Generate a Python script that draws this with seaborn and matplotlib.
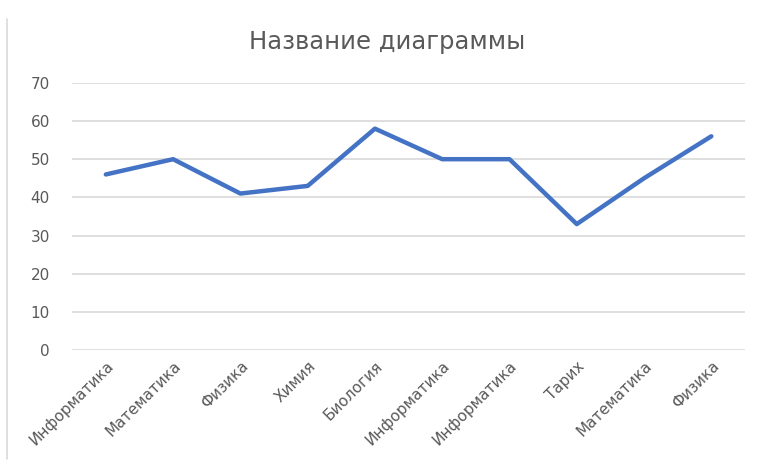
import matplotlib
matplotlib.use("Agg")
import matplotlib.pyplot as plt
import seaborn as sns
import pandas as pd
from matplotlib.lines import Line2D

categories = ["Информатика", "Математика", "Физика", "Химия", "Биология",
              "Информатика", "Информатика", "Тарих", "Математика", "Физика"]
values = [46, 50, 41, 43, 58, 50, 50, 33, 45, 56]
yticks = [0, 10, 20, 30, 40, 50, 60, 70]
title = "Название диаграммы"

sns.set_theme(style="white")
plt.rcParams['font.family'] = ['DejaVu Sans']

df = pd.DataFrame({"pos": range(len(categories)), "val": values})

fig = plt.figure(figsize=(7.68, 4.68), dpi=100)
ax = fig.add_axes([0.094, 0.252, 0.876, 0.571])

sns.lineplot(data=df, x="pos", y="val", ax=ax, color="#4472C4", linewidth=3.2)

ax.set_xlim(-0.5, len(categories) - 0.5)
ax.set_ylim(0, 70)
ax.set_yticks(yticks)
ax.set_xticks(range(len(categories)))
ax.set_xticklabels(categories, rotation=45, ha="right", rotation_mode="anchor")
ax.tick_params(axis="x", labelsize=11, colors="#595959", length=0, pad=6)
ax.tick_params(axis="y", labelsize=11, colors="#595959", length=0, pad=16)
ax.yaxis.grid(True, color="#D9D9D9", linewidth=1.2)
ax.xaxis.grid(False)
for s in ax.spines.values():
    s.set_visible(False)
ax.set_xlabel("")
ax.set_ylabel("")

fig.text(0.504, 0.91, title, ha="center", va="center", fontsize=17.5, color="#595959")
fig.add_artist(Line2D([0.009, 0.009], [0.02, 0.96], color="#D9D9D9", linewidth=1.2, transform=fig.transFigure))

fig.savefig("out.png", dpi=100, facecolor="white")
